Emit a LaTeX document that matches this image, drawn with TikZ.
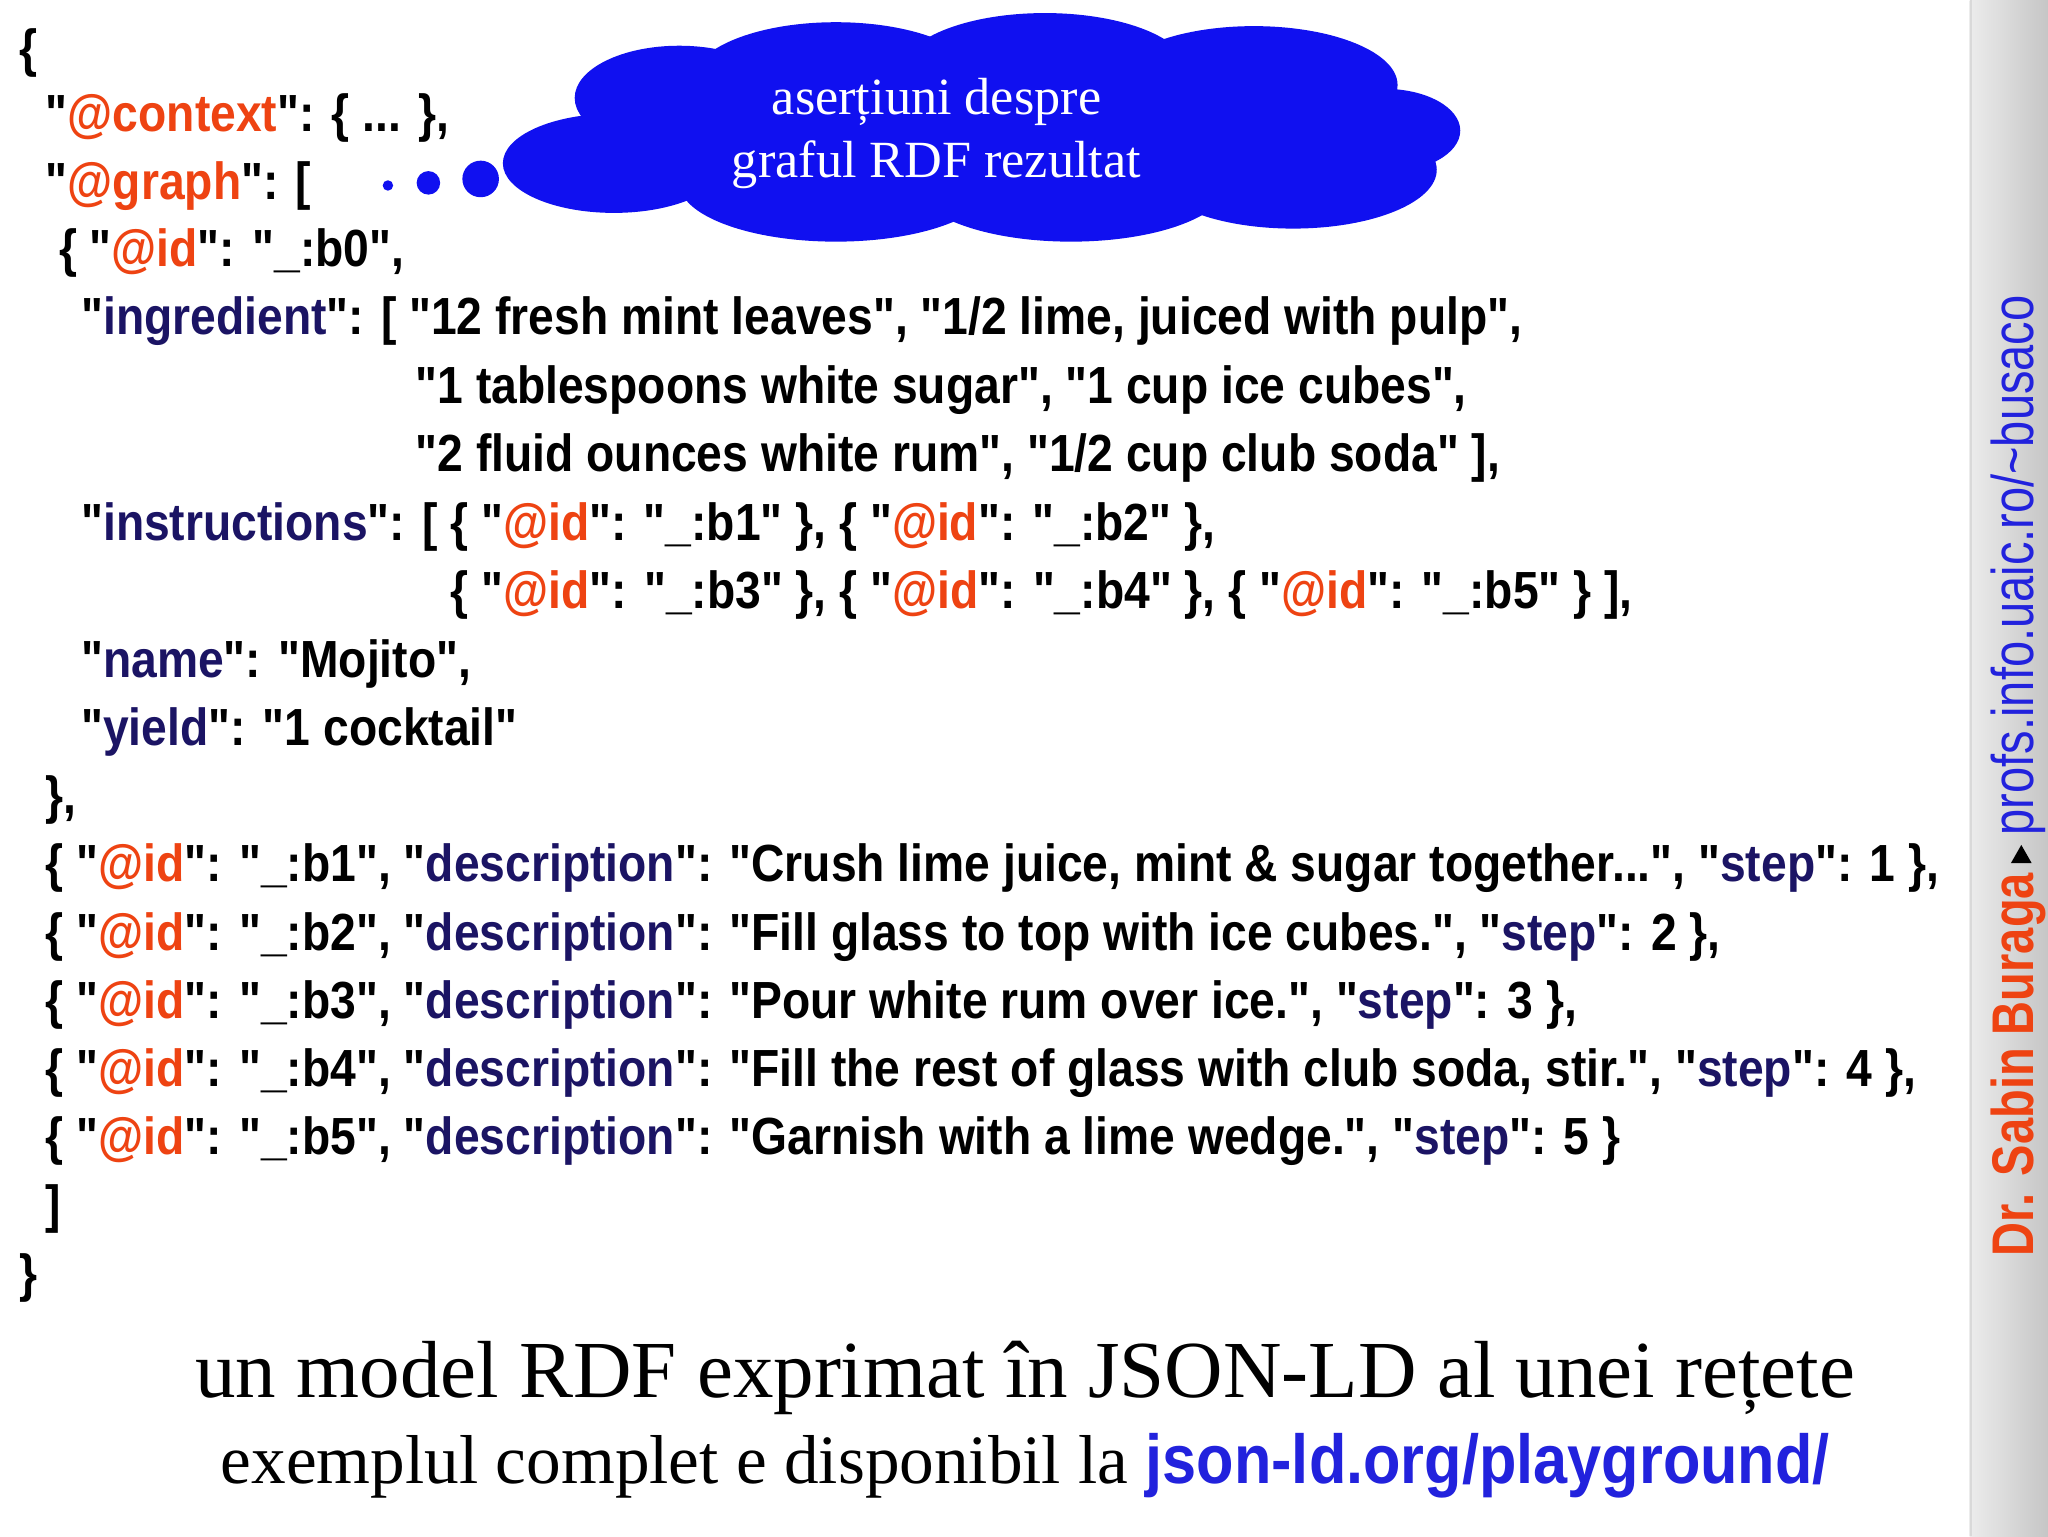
\documentclass[tikz,border=0pt]{standalone}
\usepackage{fontspec}
\setmainfont{Liberation Serif}
\newfontfamily\code[FakeStretch=0.885]{Liberation Sans}
\newfontfamily\side[FakeStretch=0.8]{Liberation Sans}
\usetikzlibrary{shadows}
\definecolor{navy}{HTML}{1B1464}
\definecolor{orng}{HTML}{EE4312}
\definecolor{cloudblue}{HTML}{1010F0}
\definecolor{linkblue}{HTML}{2222DD}
\newcommand{\K}[1]{\textcolor{navy}{#1}}
\newcommand{\A}[1]{\textcolor{orng}{#1}}
\begin{document}
\begin{tikzpicture}[x=1pt,y=-1pt,
  cl/.style={anchor=west,inner sep=0pt,font=\code\bfseries\fontsize{40}{40}\selectfont,text height=30pt,text depth=8pt}]
\useasboundingbox (0,0) rectangle (1568,1176);
\fill[white] (0,0) rectangle (1568,1176);
% sidebar
\shade[left color=gray!15,right color=gray!45] (1508,0) rectangle (1568,1176);
\draw[gray!30,line width=2pt] (1509,0) -- (1509,1176);
\node[rotate=90,anchor=west,inner sep=0pt] (side) at (1545,962)
 {\side\fontsize{45}{45}\selectfont\textcolor{orng}{\bfseries Dr. Sabin Buraga}\,\tikz[baseline=-1pt]\fill (0,0)--(0,16pt)--(14pt,8pt)--cycle;\,\textcolor{linkblue}{profs.info.uaic.ro/\textasciitilde busaco}};
% cloud
\begin{scope}[fill=cloudblue,drop shadow={opacity=0.35,shadow xshift=3pt,shadow yshift=-4pt}]
\fill (520,75) ellipse (80 and 40);
\fill (640,62) ellipse (110 and 45);
\fill (800,55) ellipse (110 and 45);
\fill (960,65) ellipse (110 and 45);
\fill (1060,100) ellipse (58 and 32);
\fill (990,130) ellipse (110 and 45);
\fill (820,140) ellipse (120 and 45);
\fill (640,140) ellipse (120 and 45);
\fill (470,125) ellipse (85 and 38);
\fill (745,100) ellipse (300 and 60);
\fill (368,137) circle (14);
\fill (328,140) circle (9);
\fill (297,142) circle (4);
\end{scope}
\node[text=white,align=center,font=\fontsize{40}{48}\selectfont] (cloud) at (717,102) {aserțiuni despre\\graful RDF rezultat};
% code
\node[cl] (l1) at (15,40) {\{};
\node[cl] (l2) at (35,90) {"\A{@context}": \{ ... \},};
\node[cl] (l3) at (35,142) {"\A{@graph}": [};
\node[cl] (l4) at (45,193) {\{ "\A{@id}": "\_:b0",};
\node[cl] (l5) at (62,245) {"\K{ingredient}": [ "12 fresh mint leaves", "1/2 lime, juiced with pulp",};
\node[cl] (l6) at (318,298) {"1 tablespoons white sugar", "1 cup ice cubes",};
\node[cl] (l7) at (318,350) {"2 fluid ounces white rum", "1/2 cup club soda" ],};
\node[cl] (l8) at (62,403) {"\K{instructions}": [ \{ "\A{@id}": "\_:b1" \}, \{ "\A{@id}": "\_:b2" \},};
\node[cl] (l9) at (345,455) {\{ "\A{@id}": "\_:b3" \}, \{ "\A{@id}": "\_:b4" \}, \{ "\A{@id}": "\_:b5" \} ],};
\node[cl] (l10) at (62,508) {"\K{name}": "Mojito",};
\node[cl] (l11) at (62,560) {"\K{yield}": "1 cocktail"};
\node[cl] (l12) at (35,612) {\},};
\node[cl] (l13) at (35,664) {\{ "\A{@id}": "\_:b1", "\K{description}": "Crush lime juice, mint \& sugar together...", "\K{step}": 1 \},};
\node[cl] (l14) at (35,717) {\{ "\A{@id}": "\_:b2", "\K{description}": "Fill glass to top with ice cubes.", "\K{step}": 2 \},};
\node[cl] (l15) at (35,769) {\{ "\A{@id}": "\_:b3", "\K{description}": "Pour white rum over ice.", "\K{step}": 3 \},};
\node[cl] (l16) at (35,821) {\{ "\A{@id}": "\_:b4", "\K{description}": "Fill the rest of glass with club soda, stir.", "\K{step}": 4 \},};
\node[cl] (l17) at (35,873) {\{ "\A{@id}": "\_:b5", "\K{description}": "Garnish with a lime wedge.", "\K{step}": 5 \}};
\node[cl] (l18) at (35,925) {]};
\node[cl] (l19) at (15,978) {\}};
% captions
\node[font=\fontsize{62}{62}\selectfont] (t1) at (785,1055) {un model RDF exprimat în JSON-LD al unei rețete};
\node[font=\fontsize{53}{53}\selectfont] (t2) at (785,1122) {exemplul complet e disponibil la \textcolor{linkblue}{\code\bfseries json-ld.org/playground/}};
\end{tikzpicture}
\end{document}
